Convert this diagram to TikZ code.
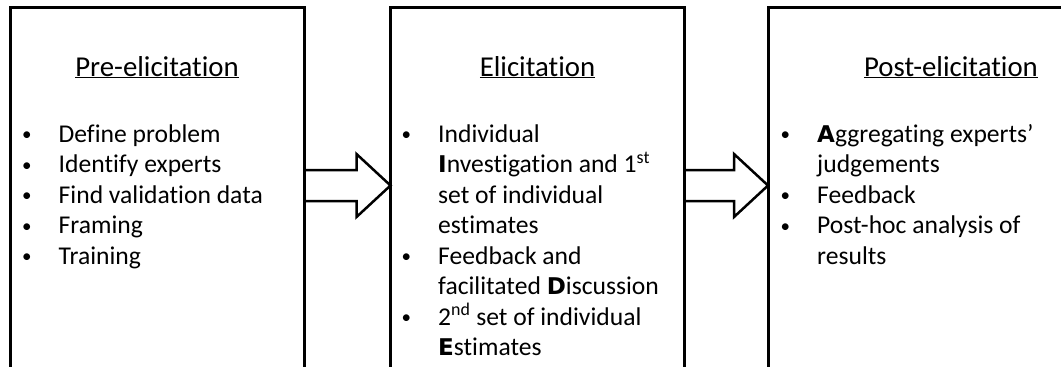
\documentclass[tikz,border=0pt]{standalone}
\usepackage{fontspec}
\setmainfont{Carlito}[Ligatures=NoCommon]
\newfontfamily\heavy{DejaVu Sans}[Scale=0.9]
\usetikzlibrary{calc}
\tikzset{
  phase/.style={draw, line width=3pt, rectangle, inner sep=0pt, outer sep=0pt,
    minimum width=294pt, minimum height=450pt, anchor=north west},
  heading/.style={anchor=base, inner sep=0pt, font=\fontsize{28.8}{33}\selectfont},
  items/.style={anchor=base west, inner sep=0pt},
  blockarrow/.style={draw, line width=2.5pt, line join=miter},
}
\newcommand{\bul}{\makebox[36.5pt][l]{\raisebox{1.2pt}{\fontsize{19}{19}\selectfont •}}}
\newcommand{\cont}{\hspace*{36.5pt}}
\newcommand{\hv}[1]{{\heavy\bfseries #1}}
\newcommand{\itemlist}[1]{\parbox[t]{340pt}{\fontsize{25.6}{30.5}\selectfont\raggedright #1}}
\begin{document}
\begin{tikzpicture}[x=1pt, y=-1pt]
\useasboundingbox (0,0) rectangle (1061,367);
\clip (0,0) rectangle (1061,367);
% boxes
\node[phase] (b1) at (10,7) {};
\node[phase] (b2) at (390.5,7) {};
\node[phase, minimum width=366pt] (b3) at (768,7) {};
% titles
\node[heading] (t1) at ($(b1.north)+(0,69)$) {\underline{Pre-elicitation}};
\node[heading] (t2) at ($(b2.north)+(0,69)$) {\underline{Elicitation}};
\node[heading] (t3) at ($(b3.north)+(0,69)$) {\underline{Post-elicitation}};
% lists
\node[items] (l1) at (22,142) {\itemlist{%
\bul Define problem\\
\bul Identify experts\\
\bul Find validation data\\
\bul Framing\\
\bul Training}};
\node[items] (l2) at (401.5,142) {\itemlist{%
\bul Individual\\
\cont\hv{I}nvestigation and 1\textsuperscript{st}\\
\cont set of individual\\
\cont estimates\\
\bul Feedback and\\
\cont facilitated \hv{D}iscussion\\
\bul 2\textsuperscript{nd} set of individual\\
\cont\hv{E}stimates}};
\node[items] (l3) at (780.5,142) {\itemlist{%
\bul\hv{A}ggregating experts’\\
\cont judgements\\
\bul Feedback\\
\bul Post-hoc analysis of\\
\cont results}};
% arrows
\coordinate (ax) at (0,185.5);
\coordinate (s1) at (b1.east |- ax);
\coordinate (e1) at (b2.west |- ax);
\coordinate (s2) at (b2.east |- ax);
\coordinate (e2) at (b3.west |- ax);
\draw[blockarrow] ($(s1)+(0,-15.5)$) -- ($(e1)+(-34,-15.5)$) -- ($(e1)+(-34,-31.5)$)
  -- (e1) -- ($(e1)+(-34,31.5)$) -- ($(e1)+(-34,15.5)$) -- ($(s1)+(0,15.5)$);
\draw[blockarrow] ($(s2)+(0,-15.5)$) -- ($(e2)+(-34,-15.5)$) -- ($(e2)+(-34,-31.5)$)
  -- (e2) -- ($(e2)+(-34,31.5)$) -- ($(e2)+(-34,15.5)$) -- ($(s2)+(0,15.5)$);
\end{tikzpicture}
\end{document}
